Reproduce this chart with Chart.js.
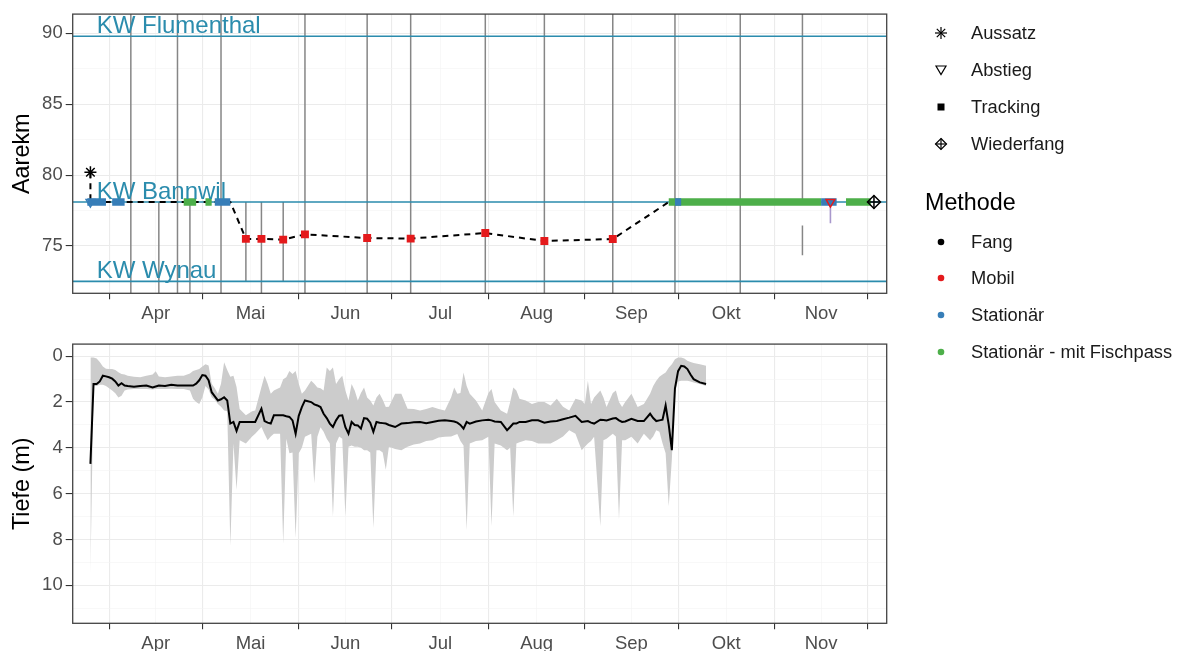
<!DOCTYPE html>
<html>
<head>
<meta charset="utf-8">
<script src="https://cdn.jsdelivr.net/npm/chart.js@4.4.1/dist/chart.umd.min.js"></script>
<style>
  body { margin: 0; background: #fff; }
  #wrap { position: relative; width: 1186px; height: 651px; overflow: hidden; font-family: "Liberation Sans", Arial, sans-serif; }
  canvas { position: absolute; left: 0; }
  #lage { top: 0; }
  #tiefe { top: 330px; }
  .lg { position: absolute; height: 24px; line-height: 24px; white-space: nowrap; color: #1a1a1a; font-size: 18.3px; }
  .lg svg { position: absolute; left: 0; top: 4px; }
  .lg span { position: absolute; left: 38px; }
  .lgTitle { position: absolute; left: 925px; height: 28px; line-height: 28px; font-size: 23.3px; color: #000; }
</style>
</head>
<body>
<div id="wrap">
  <canvas id="lage" width="1186" height="330"></canvas>
  <canvas id="tiefe" width="1186" height="321"></canvas>
</div>
<script>
// Kraftwerke an der Aare
const weirNames = ["KW Flumenthal", "KW Bannwil", "KW Wynau"];
const weirKm = [89.8, 78.1, 72.5];
const weirLabelDate = "03-28";

// Aussatz, Abstieg, Wiederfang
const releaseDate = "03-26";
const releaseKm = 80.2;
const descentDates = ["03-26", "11-19"];
const descentKm = [78.1, 78.1];
const descentMethod = ["Stationär", "Mobil"];
const recaptureDate = "12-03";
const recaptureKm = 78.1;

// mobile Ortungen
const trackDates = ["05-15", "05-20", "05-27", "06-03", "06-23", "07-07", "07-31", "08-19", "09-10"];
const trackKm = [75.5, 75.5, 75.45, 75.82, 75.56, 75.52, 75.91, 75.35, 75.49];

// stationäre Nachweise beim KW Bannwil
const stayStart = ["03-25", "04-02", "04-25", "05-02", "05-05", "09-28", "09-30", "11-16", "11-24"];
const stayEnd = ["03-31", "04-06", "04-29", "05-04", "05-10", "11-16", "10-02", "11-21", "12-02"];
const stayMethod = ["Stationär", "Stationär", "Stationär - mit Fischpass", "Stationär - mit Fischpass", "Stationär",
  "Stationär - mit Fischpass", "Stationär", "Stationär", "Stationär - mit Fischpass"];
const stayKm = 78.1;

// Begehungen (ganze Höhe) und einzelne Markierungen
const surveyDates = ["04-08", "04-23", "05-07", "06-03", "06-23", "07-07", "07-31", "08-19", "09-10", "09-30", "10-21"];
const markDates = ["04-17", "04-27", "05-15", "05-20", "05-27", "11-10", "11-10"];
const markFrom = [78.1, 78.1, 78.1, 78.1, 78.1, 95, 76.45];
const markTo = [70, 70, 72.5, 70, 72.5, 78.1, 74.35];
const descentMarkDate = "11-19";
const descentMarkFrom = 78.0;
const descentMarkTo = 76.6;

// Tiefe (m): Tagesmittel, Minimum, Maximum
const depthDates = [
  "03-26", "03-27", "03-28", "03-29", "03-30", "03-31", "04-01", "04-02", "04-03", "04-04",
  "04-05", "04-06", "04-07", "04-09", "04-11", "04-13", "04-15", "04-16", "04-17", "04-19",
  "04-21", "04-23", "04-25", "04-27", "04-28", "04-29", "04-30", "05-01", "05-02", "05-03",
  "05-04", "05-05", "05-06", "05-07", "05-08", "05-09", "05-10", "05-11", "05-12", "05-13",
  "05-15", "05-17", "05-18", "05-20", "05-21", "05-22", "05-23", "05-24", "05-26", "05-27",
  "05-28", "05-29", "05-30", "05-31", "06-01", "06-02", "06-03", "06-05", "06-06", "06-07",
  "06-08", "06-09", "06-10", "06-11", "06-12", "06-13", "06-14", "06-15", "06-16", "06-17",
  "06-18", "06-19", "06-20", "06-21", "06-22", "06-23", "06-24", "06-25", "06-26", "06-27",
  "06-28", "06-29", "06-30", "07-02", "07-04", "07-06", "07-08", "07-10", "07-12", "07-14",
  "07-16", "07-18", "07-20", "07-21", "07-22", "07-23", "07-24", "07-25", "07-26", "07-28",
  "07-30", "08-01", "08-02", "08-03", "08-05", "08-07", "08-08", "08-09", "08-10", "08-11",
  "08-13", "08-15", "08-17", "08-19", "08-21", "08-23", "08-25", "08-27", "08-29", "08-31",
  "09-01", "09-02", "09-03", "09-04", "09-06", "09-07", "09-08", "09-10", "09-11", "09-12",
  "09-13", "09-14", "09-16", "09-18", "09-20", "09-22", "09-23", "09-24", "09-25", "09-26",
  "09-27", "09-28", "09-29", "09-30", "10-01", "10-02", "10-03", "10-04", "10-05", "10-06",
  "10-08", "10-10"
];
const depthMean = [
  4.70, 1.21, 1.21, 1.10, 0.85, 0.88, 0.92, 0.98, 1.10, 1.28,
  1.18, 1.28, 1.30, 1.33, 1.30, 1.28, 1.36, 1.32, 1.28, 1.30,
  1.25, 1.28, 1.28, 1.28, 1.28, 1.20, 1.05, 0.82, 0.85, 1.05,
  1.57, 1.75, 1.93, 1.88, 1.79, 1.93, 2.94, 2.87, 3.26, 2.87,
  2.87, 2.87, 2.87, 2.29, 2.83, 2.90, 2.94, 2.58, 2.58, 2.58,
  2.62, 2.65, 2.80, 3.38, 2.60, 2.22, 1.93, 2.00, 2.10, 2.15,
  2.22, 2.51, 2.70, 2.94, 3.09, 2.80, 2.60, 2.58, 3.10, 3.38,
  2.87, 3.00, 3.02, 3.16, 2.70, 2.73, 2.90, 3.30, 2.87, 2.90,
  2.92, 2.94, 3.00, 3.09, 2.94, 2.92, 2.88, 2.87, 2.92, 2.87,
  2.82, 2.80, 2.83, 2.85, 2.90, 3.00, 3.16, 2.87, 2.94, 2.85,
  2.80, 2.77, 2.80, 2.85, 2.87, 3.23, 3.09, 2.94, 2.94, 2.87,
  2.87, 2.80, 2.80, 2.90, 2.85, 2.83, 2.75, 2.68, 2.60, 2.87,
  2.85, 2.83, 2.90, 2.94, 2.77, 2.78, 2.80, 2.72, 2.70, 2.80,
  2.87, 2.85, 2.73, 2.83, 2.83, 2.51, 2.70, 2.83, 2.80, 2.77,
  2.15, 3.00, 4.10, 1.40, 0.65, 0.42, 0.45, 0.56, 0.80, 1.00,
  1.14, 1.21
];
const depthMin = [
  0.06, 0.06, 0.10, 0.25, 0.45, 0.55, 0.56, 0.56, 0.60, 0.70,
  0.78, 0.80, 0.85, 0.90, 0.92, 0.85, 0.80, 0.65, 0.88, 0.92,
  0.88, 0.85, 0.85, 0.75, 0.64, 0.60, 0.56, 0.45, 0.35, 0.40,
  1.20, 1.40, 1.64, 1.20, 0.26, 0.60, 0.90, 0.85, 1.34, 2.30,
  2.58, 2.40, 2.37, 1.34, 0.85, 1.20, 1.64, 1.50, 1.36, 1.00,
  0.92, 0.64, 0.78, 0.64, 1.20, 1.64, 1.50, 1.07, 1.20, 1.36,
  1.40, 1.50, 0.49, 0.64, 0.49, 1.21, 1.00, 0.85, 1.50, 1.93,
  1.21, 1.50, 1.93, 1.60, 1.36, 1.80, 1.93, 2.15, 1.80, 1.64,
  1.90, 2.22, 2.20, 1.64, 1.64, 2.29, 2.30, 2.37, 2.30, 2.22,
  2.30, 2.37, 1.80, 1.36, 1.64, 1.60, 0.71, 1.30, 1.64, 1.93,
  2.37, 1.60, 1.43, 2.00, 2.37, 2.51, 2.00, 1.36, 1.50, 1.86,
  1.93, 2.08, 2.00, 2.00, 2.15, 1.86, 2.20, 2.37, 1.86, 1.93,
  2.08, 1.07, 2.08, 1.80, 1.50, 1.80, 2.22, 1.60, 1.50, 2.00,
  2.22, 2.00, 1.64, 2.22, 2.08, 1.64, 1.30, 1.07, 0.90, 0.80,
  0.71, 0.50, 0.35, 0.13, 0.06, 0.06, 0.10, 0.20, 0.25, 0.30,
  0.35, 0.42
];
const depthMax = [
  9.50, 1.30, 1.30, 1.25, 1.25, 1.30, 1.40, 1.50, 1.62, 1.80,
  1.72, 1.50, 1.45, 1.43, 1.43, 1.43, 1.45, 1.43, 1.43, 1.43,
  1.42, 1.43, 1.43, 1.50, 1.86, 2.00, 2.08, 1.80, 1.30, 1.45,
  1.79, 1.90, 2.08, 2.20, 2.37, 2.40, 8.28, 3.81, 5.83, 3.67,
  3.81, 3.50, 3.38, 3.09, 3.40, 3.67, 3.50, 3.38, 3.38, 8.20,
  3.60, 4.24, 4.20, 7.92, 4.24, 4.00, 3.52, 3.38, 5.54, 3.52,
  3.10, 3.30, 3.60, 3.81, 7.00, 3.81, 3.50, 3.60, 7.00, 3.95,
  3.90, 3.95, 3.95, 4.00, 4.10, 4.10, 4.20, 7.50, 4.10, 4.10,
  4.20, 4.96, 3.95, 4.05, 4.10, 3.95, 3.85, 3.81, 3.70, 3.67,
  3.55, 3.52, 3.50, 3.45, 3.40, 3.70, 3.90, 7.60, 3.81, 3.70,
  3.67, 3.52, 7.42, 3.81, 3.90, 4.10, 4.00, 7.00, 3.81, 3.75,
  3.67, 3.70, 3.81, 3.81, 3.81, 3.67, 3.50, 3.23, 3.38, 4.10,
  3.95, 3.81, 3.70, 3.52, 7.42, 3.67, 3.60, 3.38, 3.50, 7.13,
  3.67, 3.67, 3.52, 3.81, 3.38, 3.67, 3.50, 3.23, 3.30, 3.80,
  4.24, 6.55, 4.50, 1.50, 1.10, 1.07, 1.07, 1.07, 1.10, 1.15,
  1.21, 1.30
];

// Achsen
const monthStarts = ["04-01", "05-01", "06-01", "07-01", "08-01", "09-01", "10-01", "11-01", "12-01"];
const monthNames = ["Apr", "Mai", "Jun", "Jul", "Aug", "Sep", "Okt", "Nov"];
const kmTicks = [72.5, 75, 77.5, 80, 82.5, 85, 87.5, 90];
const depthTicks = [0, 1, 2, 3, 4, 5, 6, 7, 8, 9, 10, 11];

const methodColors = {
  "Fang": "#000000",
  "Mobil": "#e41a1c",
  "Stationär": "#377eb8",
  "Stationär - mit Fischpass": "#4daf4a"
};
const TEAL = "#2b8cad";
const FONT = "'Liberation Sans', Arial, sans-serif";

const DAY0 = Date.UTC(2021, 3, 1);
function day(md) {
  const [m, d] = md.split("-").map(Number);
  return (Date.UTC(2021, m - 1, d) - DAY0) / 86400000;
}

const X_MIN = -11.7, X_MAX = 250.1;

function monthTicks() {
  const starts = monthStarts.map(day);
  const t = starts.map(v => ({ value: v, main: true }));
  for (let i = 0; i + 1 < starts.length; i++) {
    t.push({ value: (starts[i] + starts[i + 1]) / 2, main: false, name: monthNames[i] });
  }
  return t.sort((a, b) => a.value - b.value);
}

const gridOpts = (tickLen) => ({
  color: c => (c.tick && c.tick.main ? "#ebebeb" : "#f4f4f4"),
  lineWidth: c => (c.tick && c.tick.main ? 1.1 : 0.6),
  tickColor: c => (c.tick && c.tick.main ? "#333333" : "rgba(0,0,0,0)"),
  tickWidth: 1.1,
  tickLength: tickLen
});

const xAxis = (height) => ({
  type: "linear",
  min: X_MIN,
  max: X_MAX,
  afterBuildTicks: s => { s.ticks = monthTicks(); },
  afterFit: s => { s.height = height; },
  ticks: {
    autoSkip: false, maxRotation: 0, padding: 4, color: "#4d4d4d",
    font: { family: FONT, size: 18.5 },
    callback: (v, i, t) => t[i].name || ""
  },
  grid: gridOpts(6),
  border: { display: false }
});

const yAxis = (title, min, max, values, isMain, reverse) => ({
  type: "linear",
  min, max, reverse,
  afterBuildTicks: s => { s.ticks = values.map(v => ({ value: v, main: isMain(v) })); },
  afterFit: s => { s.width = 72.7; },
  ticks: {
    autoSkip: false, padding: 3, color: "#4d4d4d",
    font: { family: FONT, size: 18.5 },
    callback: (v, i, t) => (t[i].main ? String(v) : "")
  },
  grid: gridOpts(7),
  border: { display: false },
  title: { display: true, text: title, color: "#000", font: { family: FONT, size: 23.4 }, padding: { top: 9, bottom: 0 } }
});

const panelBorder = {
  id: "panelBorder",
  afterDatasetsDraw(chart) {
    const { ctx, chartArea: a } = chart;
    ctx.save();
    ctx.strokeStyle = "#444";
    ctx.lineWidth = 1.3;
    ctx.strokeRect(a.left, a.top, a.width, a.height);
    ctx.restore();
  }
};

const weirLabels = {
  id: "weirLabels",
  afterDatasetsDraw(chart) {
    const { ctx, scales } = chart;
    ctx.save();
    ctx.font = "24px " + FONT;
    ctx.fillStyle = TEAL;
    ctx.textAlign = "left";
    ctx.textBaseline = "alphabetic";
    weirNames.forEach((name, i) => {
      ctx.fillText(name, scales.x.getPixelForValue(day(weirLabelDate)), scales.y.getPixelForValue(weirKm[i]) - 3);
    });
    ctx.restore();
  }
};

// Segmente mit Lücken für eine Linie
function segments(starts, ends, fromY, toY) {
  const pts = [];
  starts.forEach((s, i) => {
    pts.push({ x: day(s), y: fromY[i] }, { x: day(ends[i]), y: toY[i] }, { x: day(ends[i]), y: null });
  });
  return pts;
}

const surveyLines = segments(surveyDates, surveyDates, surveyDates.map(() => 95), surveyDates.map(() => 70));
const markLines = segments(markDates, markDates, markFrom, markTo);

function stayLine(method) {
  const idx = stayMethod.map((m, i) => (m === method ? i : -1)).filter(i => i >= 0);
  return segments(idx.map(i => stayStart[i]), idx.map(i => stayEnd[i]),
    idx.map(() => stayKm), idx.map(() => stayKm));
}

const routeDates = [releaseDate, releaseDate, "05-10", ...trackDates, "09-28"];
const routeKm = [releaseKm, stayKm, stayKm, ...trackKm, stayKm];

const weirLines = [];
weirKm.forEach(k => { weirLines.push({ x: X_MIN - 5, y: k }, { x: X_MAX + 5, y: k }, { x: X_MAX + 5, y: null }); });

const noPoints = { pointRadius: 0, pointHoverRadius: 0, tension: 0, spanGaps: false };

new Chart(document.getElementById("lage"), {
  type: "line",
  data: {
    datasets: [
      { data: [{ x: day(recaptureDate), y: recaptureKm }], showLine: false, pointStyle: "rectRot", pointRadius: 6.5,
        pointBorderColor: "#000", pointBackgroundColor: "rgba(0,0,0,0)", pointBorderWidth: 1.5, order: 0 },
      { data: [{ x: day(recaptureDate), y: recaptureKm }], showLine: false, pointStyle: "cross", pointRadius: 6.5,
        pointBorderColor: "#000", pointBorderWidth: 1.5, order: 0 },
      { data: [{ x: day(releaseDate), y: releaseKm }], showLine: false, pointStyle: "star", pointRadius: 6,
        pointBorderColor: "#000", pointBorderWidth: 1.5, order: 0 },
      { data: descentDates.map((d, i) => ({ x: day(d), y: descentKm[i] })), showLine: false, pointStyle: "triangle",
        rotation: 180, pointRadius: 5, pointBackgroundColor: "rgba(0,0,0,0)", pointBorderWidth: 1.5,
        pointBorderColor: descentMethod.map(m => methodColors[m]), order: 1 },
      { data: trackDates.map((d, i) => ({ x: day(d), y: trackKm[i] })), showLine: false, pointStyle: "rect",
        pointRadius: 5.6, pointBackgroundColor: methodColors["Mobil"], pointBorderWidth: 0, order: 1 },
      { data: stayLine("Stationär"), borderColor: methodColors["Stationär"], borderWidth: 7.5,
        borderCapStyle: "butt", ...noPoints, order: 2 },
      { data: stayLine("Stationär - mit Fischpass"), borderColor: methodColors["Stationär - mit Fischpass"], borderWidth: 7.5,
        borderCapStyle: "butt", ...noPoints, order: 3 },
      { data: routeDates.map((d, i) => ({ x: day(d), y: routeKm[i] })), borderColor: "#000", borderWidth: 2,
        borderDash: [6, 5], ...noPoints, order: 4 },
      { data: weirLines, borderColor: TEAL, borderWidth: 1.6, ...noPoints, order: 5 },
      { data: [{ x: day(descentMarkDate), y: descentMarkFrom }, { x: day(descentMarkDate), y: descentMarkTo }],
        borderColor: "#a898cc", borderWidth: 1.6, ...noPoints, order: 6 },
      { data: markLines, borderColor: "#868686", borderWidth: 1.5, ...noPoints, order: 6 },
      { data: surveyLines, borderColor: "#868686", borderWidth: 1.5, ...noPoints, order: 6 }
    ]
  },
  options: {
    responsive: false,
    animation: false,
    events: [],
    layout: { padding: { top: 12.3, right: 1186 - 886.7, bottom: 0, left: 0 } },
    plugins: { legend: { display: false }, tooltip: { enabled: false } },
    scales: {
      x: xAxis(330 - 293.3),
      y: yAxis("Aarekm", 71.66, 91.36, kmTicks, v => v % 5 === 0, false)
    }
  },
  plugins: [panelBorder, weirLabels]
});

const depthPts = arr => depthDates.map((d, i) => ({ x: day(d), y: arr[i] }));

new Chart(document.getElementById("tiefe"), {
  type: "line",
  data: {
    datasets: [
      { data: depthPts(depthMean), borderColor: "#000", borderWidth: 2, ...noPoints, fill: false },
      { data: depthPts(depthMin), borderWidth: 0, borderColor: "rgba(0,0,0,0)", backgroundColor: "#cccccc",
        fill: "+1", ...noPoints },
      { data: depthPts(depthMax), borderWidth: 0, borderColor: "rgba(0,0,0,0)", fill: false, ...noPoints }
    ]
  },
  options: {
    responsive: false,
    animation: false,
    events: [],
    layout: { padding: { top: 341.7 - 330, right: 1186 - 886.7, bottom: 0, left: 0 } },
    plugins: { legend: { display: false }, tooltip: { enabled: false } },
    scales: {
      x: xAxis(651 - 623.3),
      y: yAxis("Tiefe (m)", -0.53, 11.66, depthTicks, v => v % 2 === 0, true)
    }
  },
  plugins: [panelBorder]
});

// Legende
const shapeNames = ["Aussatz", "Abstieg", "Tracking", "Wiederfang"];
const shapeSvg = [
  '<line x1="8" y1="2" x2="8" y2="14"/><line x1="2" y1="8" x2="14" y2="8"/><line x1="3.8" y1="3.8" x2="12.2" y2="12.2"/><line x1="12.2" y1="3.8" x2="3.8" y2="12.2"/>',
  '<polygon points="3,4 13,4 8,12.5" fill="none"/>',
  '<rect x="4.5" y="4.5" width="7" height="7" fill="#000" stroke="none"/>',
  '<polygon points="8,2.5 13.5,8 8,13.5 2.5,8" fill="none"/><line x1="8" y1="2.5" x2="8" y2="13.5"/><line x1="2.5" y1="8" x2="13.5" y2="8"/>'
];
const methodNames = Object.keys(methodColors);

const wrap = document.getElementById("wrap");
function addItem(y, svgInner, label) {
  const el = document.createElement("div");
  el.className = "lg";
  el.style.left = "933px";
  el.style.top = (y - 12) + "px";
  el.innerHTML = '<svg width="16" height="16" stroke="#000" stroke-width="1.2">' + svgInner + "</svg><span></span>";
  el.querySelector("span").textContent = label;
  wrap.appendChild(el);
}
shapeNames.forEach((n, i) => addItem(33.3 + i * 36.8, shapeSvg[i], n));

const title = document.createElement("div");
title.className = "lgTitle";
title.style.top = (201.7 - 14) + "px";
title.textContent = "Methode";
wrap.appendChild(title);

methodNames.forEach((n, i) => {
  addItem(241.7 + i * 36.7, '<circle cx="8" cy="8" r="3.3" stroke="none" fill="' + methodColors[n] + '"/>', n);
});
</script>
</body>
</html>
